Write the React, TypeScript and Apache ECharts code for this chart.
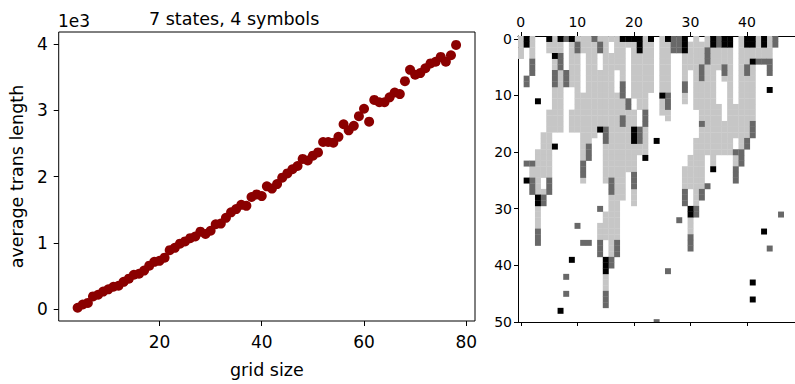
import React, { useEffect, useRef } from "react";
import * as echarts from "echarts";

// ---------- left panel data ----------
const gridSizes = [
  4, 5, 6, 7, 8, 9, 10, 11, 12, 13, 14, 15, 16, 17, 18, 19, 20, 21, 22, 23, 24, 25, 26, 27, 28,
  29, 30, 31, 32, 33, 34, 35, 36, 37, 38, 39, 40, 41, 42, 43, 44, 45, 46, 47, 48, 49, 50, 51, 52,
  53, 54, 55, 56, 57, 58, 59, 60, 61, 62, 63, 64, 65, 66, 67, 68, 69, 70, 71, 72, 73, 74, 75, 76,
  77, 78,
];
const avgLengths = [
  24, 73, 98, 195, 220, 268, 302, 341, 356, 415, 463, 522, 537, 585, 659, 717, 732, 780, 893, 927,
  990, 1024, 1073, 1098, 1171, 1137, 1185, 1283, 1293, 1380, 1463, 1512, 1576, 1560, 1693, 1732,
  1707, 1854, 1820, 1888, 1985, 2049, 2112, 2161, 2268, 2244, 2317, 2366, 2522, 2522, 2512, 2600,
  2790, 2698, 2766, 2912, 3024, 2829, 3156, 3122, 3122, 3195, 3268, 3244, 3439, 3610, 3537, 3561,
  3634, 3707, 3732, 3805, 3732, 3829, 3985,
];
const xTicks = [20, 40, 60, 80];
const yTicks = [0, 1000, 2000, 3000, 4000];

// ---------- right panel data (symbol per cell: 1 light, 2 dark, 3 black) ----------
const heatXTicks = [0, 10, 20, 30, 40];
const heatYTicks = [0, 10, 20, 30, 40, 50];
const symbolColors = ["#ffffff", "#c6c6c6", "#686868", "#000000"];

// runs: [column, firstRow, lastRow]
const lightRuns = [
  [0, 0, 3],
  [2, 0, 3], [2, 23, 24],
  [3, 20, 27], [3, 30, 33],
  [4, 17, 24], [4, 27, 27],
  [5, 1, 2], [5, 13, 24],
  [6, 0, 2], [6, 4, 5], [6, 9, 16],
  [7, 1, 2], [7, 6, 16],
  [9, 1, 8], [9, 13, 16],
  [10, 0, 0], [10, 3, 16],
  [11, 0, 2], [11, 10, 21], [11, 25, 25],
  [12, 0, 18],
  [13, 1, 17],
  [14, 0, 0], [14, 6, 15], [14, 33, 35],
  [15, 0, 15], [15, 19, 25], [15, 31, 35], [15, 42, 44],
  [16, 0, 0], [16, 3, 24], [16, 28, 38],
  [17, 0, 5], [17, 10, 35],
  [18, 1, 7], [18, 11, 13], [18, 16, 28],
  [19, 1, 1], [19, 13, 23],
  [20, 1, 10], [20, 13, 15], [20, 19, 23], [20, 27, 29],
  [21, 3, 12], [21, 19, 20],
  [22, 0, 12], [22, 16, 20],
  [23, 1, 9],
  [25, 0, 9], [25, 11, 13],
  [26, 1, 9], [26, 13, 14],
  [29, 3, 7], [29, 10, 11], [29, 23, 26],
  [30, 1, 5], [30, 21, 26], [30, 32, 34],
  [31, 0, 12], [31, 18, 29],
  [32, 1, 14], [32, 16, 26],
  [33, 0, 1], [33, 5, 20],
  [34, 2, 22],
  [35, 2, 5], [35, 12, 20],
  [36, 2, 4], [36, 7, 7], [36, 15, 20],
  [37, 2, 20],
  [38, 12, 17], [38, 21, 22],
  [39, 0, 20],
  [40, 2, 4], [40, 7, 17],
  [41, 2, 3], [41, 5, 14],
  [42, 0, 3],
  [43, 2, 3],
  [44, 0, 3],
];
const darkRuns = [
  [1, 7, 8], [1, 22, 22],
  [2, 4, 6], [2, 22, 22], [2, 25, 27],
  [3, 34, 36],
  [4, 28, 29],
  [5, 25, 27],
  [6, 6, 8],
  [7, 3, 5],
  [8, 0, 0], [8, 6, 8], [8, 42, 42], [8, 45, 45],
  [10, 1, 2], [10, 33, 33],
  [11, 22, 24], [11, 36, 36],
  [12, 19, 21], [12, 36, 36],
  [13, 0, 0],
  [14, 1, 2], [14, 30, 30], [14, 36, 38],
  [15, 16, 18], [15, 45, 47],
  [16, 25, 27], [16, 39, 40],
  [17, 36, 38],
  [18, 8, 10], [18, 14, 15],
  [19, 11, 12],
  [20, 24, 26],
  [21, 16, 18],
  [22, 13, 15],
  [24, 50, 50],
  [26, 10, 12], [26, 41, 41],
  [27, 0, 2],
  [28, 0, 2], [28, 32, 32],
  [29, 8, 9], [29, 27, 29],
  [30, 35, 37],
  [31, 30, 31],
  [32, 5, 7], [32, 15, 15], [32, 27, 28],
  [33, 2, 4], [33, 26, 26],
  [35, 0, 1],
  [36, 5, 6],
  [38, 20, 20], [38, 23, 25],
  [39, 20, 22],
  [40, 5, 6], [40, 18, 19],
  [41, 15, 17],
  [42, 4, 4], [43, 4, 4],
  [44, 4, 6], [44, 37, 37],
  [45, 0, 1],
  [46, 31, 31],
];
const blackRuns = [
  [1, 0, 1], [1, 25, 25],
  [3, 11, 11], [3, 28, 29],
  [5, 0, 0],
  [6, 3, 3], [6, 19, 19],
  [7, 0, 0], [7, 48, 48],
  [9, 0, 0], [9, 39, 39],
  [14, 16, 16],
  [15, 39, 41],
  [18, 0, 0], [19, 0, 0], [20, 0, 0], [20, 16, 18],
  [21, 0, 2],
  [22, 21, 21],
  [23, 0, 0],
  [24, 18, 18],
  [25, 10, 10],
  [26, 0, 0],
  [29, 0, 2],
  [30, 30, 31],
  [34, 0, 1], [34, 23, 23],
  [36, 0, 1], [37, 0, 1],
  [40, 0, 1], [41, 0, 1], [41, 4, 4], [41, 43, 43], [41, 46, 46],
  [43, 0, 1], [43, 34, 34],
  [44, 9, 9],
];

const FONT = "DejaVu Sans";

function buildCells() {
  const map = new Map<string, number[]>();
  const add = (runs: number[][], v: number) => {
    for (const [c, r0, r1] of runs) {
      for (let r = r0; r <= r1; r++) map.set(c + "," + r, [c, r, v]);
    }
  };
  add(lightRuns, 1);
  add(darkRuns, 2);
  add(blackRuns, 3);
  return Array.from(map.values());
}

export default function App() {
  const ref = useRef<HTMLDivElement>(null);
  useEffect(() => {
    document.body.style.margin = "0";
    const chart = echarts.init(ref.current!, null, { renderer: "svg" });
    const cells = buildCells();
    const tickLabel = { color: "#000", fontFamily: FONT };
    chart.setOption({
      animation: false,
      backgroundColor: "#fff",
      grid: [
        { left: 58, top: 32, width: 417, height: 298, show: true, borderColor: "#000", borderWidth: 1, backgroundColor: "transparent" },
        { left: 518, top: 36, width: 277, height: 286 },
      ],
      xAxis: [
        {
          gridIndex: 0, type: "value", min: 0.3, max: 81.7,
          axisLine: { show: false, onZero: false },
          axisTick: { show: true, customValues: xTicks, length: 5, lineStyle: { color: "#000" } },
          axisLabel: { ...tickLabel, customValues: xTicks, fontSize: 17, margin: 12 },
          splitLine: { show: false },
          name: "grid size", nameLocation: "middle", nameGap: 40,
          nameTextStyle: { color: "#000", fontFamily: FONT, fontSize: 17.5 },
        },
        {
          gridIndex: 1, type: "value", position: "top", min: -0.5, max: 48.5,
          axisLine: { show: true, onZero: false, lineStyle: { color: "#000" } },
          axisTick: { show: true, customValues: heatXTicks, length: 4, lineStyle: { color: "#000" } },
          axisLabel: { ...tickLabel, customValues: heatXTicks, fontSize: 14, margin: 7 },
          splitLine: { show: false },
        },
        {
          gridIndex: 1, type: "value", position: "bottom", min: -0.5, max: 48.5,
          axisLine: { show: true, onZero: false, lineStyle: { color: "#000" } },
          axisTick: { show: true, customValues: heatXTicks, length: 4, lineStyle: { color: "#000" } },
          axisLabel: { show: false },
          splitLine: { show: false },
        },
      ],
      yAxis: [
        {
          gridIndex: 0, type: "value", min: -175, max: 4180,
          axisLine: { show: false, onZero: false },
          axisTick: { show: true, customValues: yTicks, length: 5, lineStyle: { color: "#000" } },
          axisLabel: { ...tickLabel, customValues: yTicks, fontSize: 17, margin: 11, formatter: (v: number) => String(v / 1000) },
          splitLine: { show: false },
          name: "average trans length", nameLocation: "middle", nameGap: 31, nameRotate: 90,
          nameTextStyle: { color: "#000", fontFamily: FONT, fontSize: 17.5 },
        },
        {
          gridIndex: 1, type: "value", min: -0.5, max: 50, inverse: true,
          axisLine: { show: true, onZero: false, lineStyle: { color: "#000" } },
          axisTick: { show: true, customValues: heatYTicks, length: 4, lineStyle: { color: "#000" } },
          axisLabel: { ...tickLabel, customValues: heatYTicks, fontSize: 14, margin: 6 },
          splitLine: { show: false },
        },
      ],
      graphic: [
        { type: "text", left: 236 - 87, top: 10, style: { text: "7 states, 4 symbols", fill: "#000", font: `17.5px ${FONT}` } },
        { type: "text", left: 58, top: 12, style: { text: "1e3", fill: "#000", font: `17px ${FONT}` } },
      ],
      series: [
        {
          type: "scatter", xAxisIndex: 0, yAxisIndex: 0, symbolSize: 10,
          itemStyle: { color: "#8b0000", opacity: 1 },
          data: gridSizes.map((x, i) => [x, avgLengths[i]]),
        },
        {
          type: "custom", xAxisIndex: 1, yAxisIndex: 1, clip: true,
          data: cells,
          renderItem: (_p: any, api: any) => {
            const c = api.value(0), r = api.value(1), v = api.value(2);
            const p0 = api.coord([c - 0.5, r - 0.5]);
            const p1 = api.coord([c + 0.5, r + 0.5]);
            return {
              type: "rect",
              shape: {
                x: Math.min(p0[0], p1[0]), y: Math.min(p0[1], p1[1]),
                width: Math.abs(p1[0] - p0[0]) + 0.3, height: Math.abs(p1[1] - p0[1]) + 0.3,
              },
              style: { fill: symbolColors[v] },
            };
          },
        },
      ],
    });
    return () => chart.dispose();
  }, []);
  return <div ref={ref} style={{ width: 795, height: 384 }} />;
}
